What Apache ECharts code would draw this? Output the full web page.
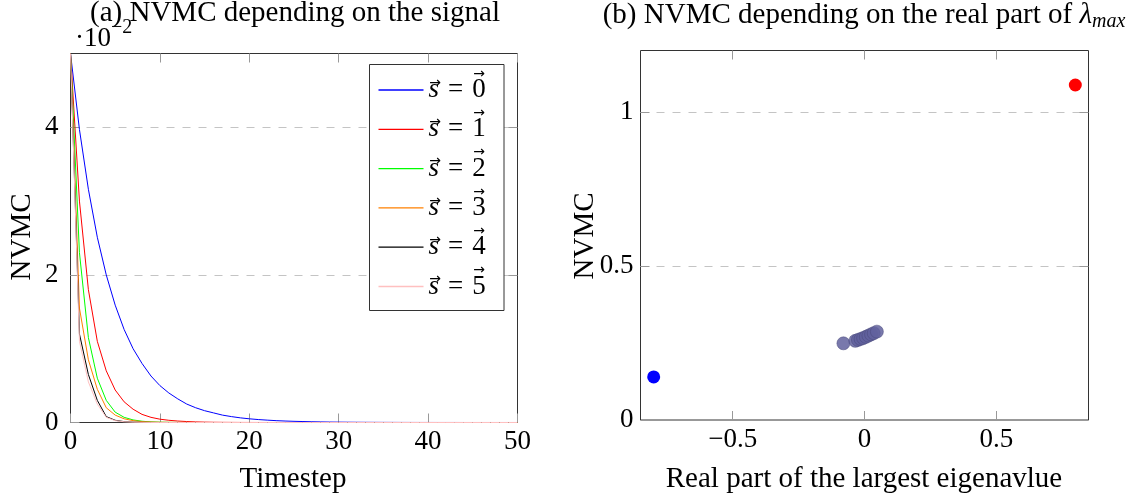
<!DOCTYPE html>
<html><head><meta charset="utf-8">
<script src="https://cdn.jsdelivr.net/npm/echarts@6/dist/echarts.min.js"></script>
<style>html,body{margin:0;padding:0;background:#fff}#c{width:1142px;height:497px}</style>
</head><body><div id="c"></div>
<script>
// ---- panel (a): NVMC (x10^-2) per timestep, one list per signal ----
const timesteps = [0,1,2,3,4,5,6,7,8,9,10,11,12,13,14,15,16,17,18,19,20,21,22,23,24,25,26,27,28,29,30,31,32,33,34,35,36,37,38,39,40,41,42,43,44,45,46,47,48,49,50];
const nvmcS0 = [5.00,3.97,3.16,2.51,2.00,1.59,1.26,1.00,0.80,0.63,0.50,0.40,0.32,0.25,0.20,0.16,0.13,0.10,0.08,0.063,0.050,0.040,0.032,0.025,0.020,0.016,0.013,0.010,0.008,0.006,0.005,0.004,0.003,0.0025,0.002,0.0016,0.0013,0.001,0.0008,0.0006,0.0005,0.0004,0.0003,0.0003,0.0002,0.0002,0.0001,0.0001,0.0001,0.0001,0.0001];
const nvmcS1 = [5.00,3.00,1.80,1.10,0.70,0.44,0.28,0.18,0.11,0.07,0.045,0.03,0.02,0.013,0.008,0.005,0.003,0.002,0.0013,0.0008,0.0005,0.0003,0.0002,0.0001,0.0001,0,0,0,0,0,0,0,0,0,0,0,0,0,0,0,0,0,0,0,0,0,0,0,0,0,0];
const nvmcS2 = [5.00,2.30,1.15,0.60,0.30,0.14,0.07,0.035,0.017,0.008,0.004,0.002,0.001,0.0005,0.0002,0.0001,0,0,0,0,0,0,0,0,0,0,0,0,0,0,0,0,0,0,0,0,0,0,0,0,0,0,0,0,0,0,0,0,0,0,0];
const nvmcS3 = [5.00,1.55,0.85,0.45,0.20,0.10,0.05,0.025,0.012,0.006,0.003,0.0015,0.0007,0.0003,0.0001,0,0,0,0,0,0,0,0,0,0,0,0,0,0,0,0,0,0,0,0,0,0,0,0,0,0,0,0,0,0,0,0,0,0,0,0];
const nvmcS4 = [5.00,1.20,0.65,0.30,0.08,0.03,0.012,0.005,0.002,0.001,0.0004,0.0002,0.0001,0,0,0,0,0,0,0,0,0,0,0,0,0,0,0,0,0,0,0,0,0,0,0,0,0,0,0,0,0,0,0,0,0,0,0,0,0,0];
const nvmcS5 = [5.00,1.10,0.55,0.25,0.07,0.025,0.010,0.004,0.0015,0.0006,0.0002,0.0001,0,0,0,0,0,0,0,0,0,0,0,0,0,0,0,0,0,0,0,0,0,0,0,0,0,0,0,0,0,0,0,0,0,0,0,0,0,0,0];
const signalNames = ['0','1','2','3','4','5'];
const xTicksA = [0,10,20,30,40,50];
const yTicksA = [0,2,4];

// ---- panel (b): NVMC vs real part of the largest eigenvalue ----
const lowReal = [-0.80];
const lowNvmc = [0.14];
const midReal = [-0.08,-0.035,-0.025,-0.015,-0.005,0.005,0.015,0.025,0.035,0.047];
const midNvmc = [0.249,0.257,0.260,0.263,0.266,0.270,0.274,0.278,0.282,0.287];
const highReal = [0.80];
const highNvmc = [1.088];
const xTicksB = [-0.5,0,0.5];
const yTicksB = [0,0.5,1];

const FONT = '"Liberation Serif","DejaVu Serif",serif';
const lineColors = ['#0000ff','#ff0000','#00ff00','#ff8000','#000000','#ffc0c0'];
const allNvmc = [nvmcS0,nvmcS1,nvmcS2,nvmcS3,nvmcS4,nvmcS5];

function pairs(xs, ys){ return xs.map((x,i)=>[x, ys[i]]); }
const minus = v => (v < 0 ? '\u2212' + Math.abs(v) : String(v));

const tickStyle = {inside:true, length:9, lineStyle:{color:'#999', width:1}};
const labelStyle = {fontFamily:FONT, fontSize:27, color:'#000'};
const gridLine = {show:true, showMinLine:false, showMaxLine:true, lineStyle:{color:'#c4c4c4', width:1, type:[8,8]}};
const noLine = {show:false, onZero:false};

// legend drawn as graphics (style/geometry only)
const LEG = {left:369.5, top:64.5, w:134.5, h:246, firstY:90, step:39.3, lineX:378.5, lineW:45, textX:428.5};
const legendEls = [{type:'rect', z:50, shape:{x:LEG.left, y:LEG.top, width:LEG.w, height:LEG.h},
  style:{fill:'#fff', stroke:'#333', lineWidth:1}}];
signalNames.forEach((n,k)=>{
  const cy = LEG.firstY + k*LEG.step;
  legendEls.push({type:'line', z:51, shape:{x1:LEG.lineX, y1:cy, x2:LEG.lineX+LEG.lineW, y2:cy},
    style:{stroke:lineColors[k], lineWidth:1.3}});
  legendEls.push({type:'text', z:51, style:{text:'{i|s}{e|=}{d|' + n + '}', x:LEG.textX, y:cy, align:'left', verticalAlign:'middle',
    fontFamily:FONT, fontSize:27, fill:'#000',
    rich:{i:{fontFamily:FONT, fontSize:27, fontStyle:'italic'},
          e:{fontFamily:FONT, fontSize:27, padding:[0,9,0,9]},
          d:{fontFamily:FONT, fontSize:27}}}});
  legendEls.push({type:'text', z:52, style:{text:'\u2192', x:LEG.textX+6.5, y:cy-7, align:'center', verticalAlign:'middle',
    fontFamily:'"DejaVu Sans"', fontSize:14, fill:'#000'}});
  legendEls.push({type:'text', z:52, style:{text:'\u2192', x:LEG.textX+50.5, y:cy-16, align:'center', verticalAlign:'middle',
    fontFamily:'"DejaVu Sans"', fontSize:14, fill:'#000'}});
});

const chart = echarts.init(document.getElementById('c'), null, {renderer:'canvas'});
const option = {
  animation:false,
  backgroundColor:'#fff',
  grid:[
    {left:70.5, top:53.5, width:447, height:369, show:true, borderColor:'#333', borderWidth:1, backgroundColor:'transparent'},
    {left:640.5, top:50.5, width:448, height:369.5, show:true, borderColor:'#333', borderWidth:1, backgroundColor:'transparent'}
  ],
  xAxis:[
    {gridIndex:0, type:'value', min:0, max:50, interval:10, position:'bottom',
     axisLine:noLine, axisTick:Object.assign({customValues:xTicksA}, tickStyle),
     axisLabel:Object.assign({customValues:xTicksA, margin:6}, labelStyle), splitLine:{show:false}},
    {gridIndex:0, type:'value', min:0, max:50, interval:10, position:'top',
     axisLine:noLine, axisTick:Object.assign({customValues:xTicksA}, tickStyle),
     axisLabel:{show:false}, splitLine:{show:false}},
    {gridIndex:1, type:'value', min:-0.85, max:0.85, position:'bottom',
     axisLine:noLine, axisTick:Object.assign({customValues:xTicksB}, tickStyle),
     axisLabel:Object.assign({customValues:xTicksB, margin:6, formatter:minus}, labelStyle), splitLine:{show:false}},
    {gridIndex:1, type:'value', min:-0.85, max:0.85, position:'top',
     axisLine:noLine, axisTick:Object.assign({customValues:xTicksB}, tickStyle),
     axisLabel:{show:false}, splitLine:{show:false}}
  ],
  yAxis:[
    {gridIndex:0, type:'value', min:0, max:5, interval:2, position:'left',
     axisLine:noLine, axisTick:Object.assign({customValues:yTicksA}, tickStyle),
     axisLabel:Object.assign({customValues:yTicksA, margin:12}, labelStyle), splitLine:gridLine},
    {gridIndex:0, type:'value', min:0, max:5, interval:2, position:'right',
     axisLine:noLine, axisTick:Object.assign({customValues:yTicksA}, tickStyle),
     axisLabel:{show:false}, splitLine:{show:false}},
    {gridIndex:1, type:'value', min:0, max:1.2, interval:0.5, position:'left',
     axisLine:noLine, axisTick:Object.assign({customValues:yTicksB}, tickStyle),
     axisLabel:Object.assign({customValues:yTicksB, margin:7}, labelStyle), splitLine:gridLine},
    {gridIndex:1, type:'value', min:0, max:1.2, interval:0.5, position:'right',
     axisLine:noLine, axisTick:Object.assign({customValues:yTicksB}, tickStyle),
     axisLabel:{show:false}, splitLine:{show:false}}
  ],
  series: allNvmc.map((vals,k)=>({
    name:'s'+signalNames[k], type:'line', xAxisIndex:0, yAxisIndex:0,
    data:pairs(timesteps, vals), symbol:'none', showSymbol:false, color:lineColors[k],
    lineStyle:{color:lineColors[k], width:1}, itemStyle:{color:lineColors[k]}, z:2+k
  })).concat([
    {name:'low', type:'scatter', xAxisIndex:2, yAxisIndex:2, data:pairs(lowReal, lowNvmc),
     symbolSize:13, itemStyle:{color:'#0000ff', opacity:1}},
    {name:'mid', type:'scatter', xAxisIndex:2, yAxisIndex:2, data:pairs(midReal, midNvmc),
     symbolSize:13, itemStyle:{color:'#62629e', opacity:0.85, borderColor:'#4a4a7a', borderWidth:0.6}},
    {name:'high', type:'scatter', xAxisIndex:2, yAxisIndex:2, data:pairs(highReal, highNvmc),
     symbolSize:13, itemStyle:{color:'#ff0000', opacity:1}}
  ]),
  graphic:[
    {type:'text', style:{text:'(a) NVMC depending on the signal', x:295, y:13, align:'center', verticalAlign:'middle',
      fontFamily:FONT, fontSize:29, fill:'#000'}},
    {type:'text', style:{text:'\u00B710', x:111, y:39, align:'right', verticalAlign:'middle',
      fontFamily:FONT, fontSize:27, fill:'#000'}},
    {type:'text', style:{text:'\u22122', x:111, y:28, align:'left', verticalAlign:'middle',
      fontFamily:FONT, fontSize:20, fill:'#000'}},
    {type:'text', style:{text:'(b) NVMC depending on the real part of {l|\u03BB}{s|max}', x:864, y:15, align:'center', verticalAlign:'middle',
      fontFamily:FONT, fontSize:29, fill:'#000', lineHeight:34,
      rich:{l:{fontFamily:FONT, fontSize:29, fontStyle:'italic', lineHeight:34},
            s:{fontFamily:FONT, fontSize:20, fontStyle:'italic', verticalAlign:'bottom', lineHeight:34}}}},
    {type:'text', rotation:Math.PI/2, x:22, y:237, style:{text:'NVMC', x:0, y:0, align:'center', verticalAlign:'middle',
      fontFamily:FONT, fontSize:29, fill:'#000'}},
    {type:'text', rotation:Math.PI/2, x:585, y:236, style:{text:'NVMC', x:0, y:0, align:'center', verticalAlign:'middle',
      fontFamily:FONT, fontSize:29, fill:'#000'}},
    {type:'text', style:{text:'Timestep', x:293, y:479, align:'center', verticalAlign:'middle',
      fontFamily:FONT, fontSize:29, fill:'#000'}},
    {type:'text', style:{text:'Real part of the largest eigenavlue', x:864, y:479, align:'center', verticalAlign:'middle',
      fontFamily:FONT, fontSize:29, fill:'#000'}}
  ].concat(legendEls)
};
chart.setOption(option);
</script>
</body></html>
